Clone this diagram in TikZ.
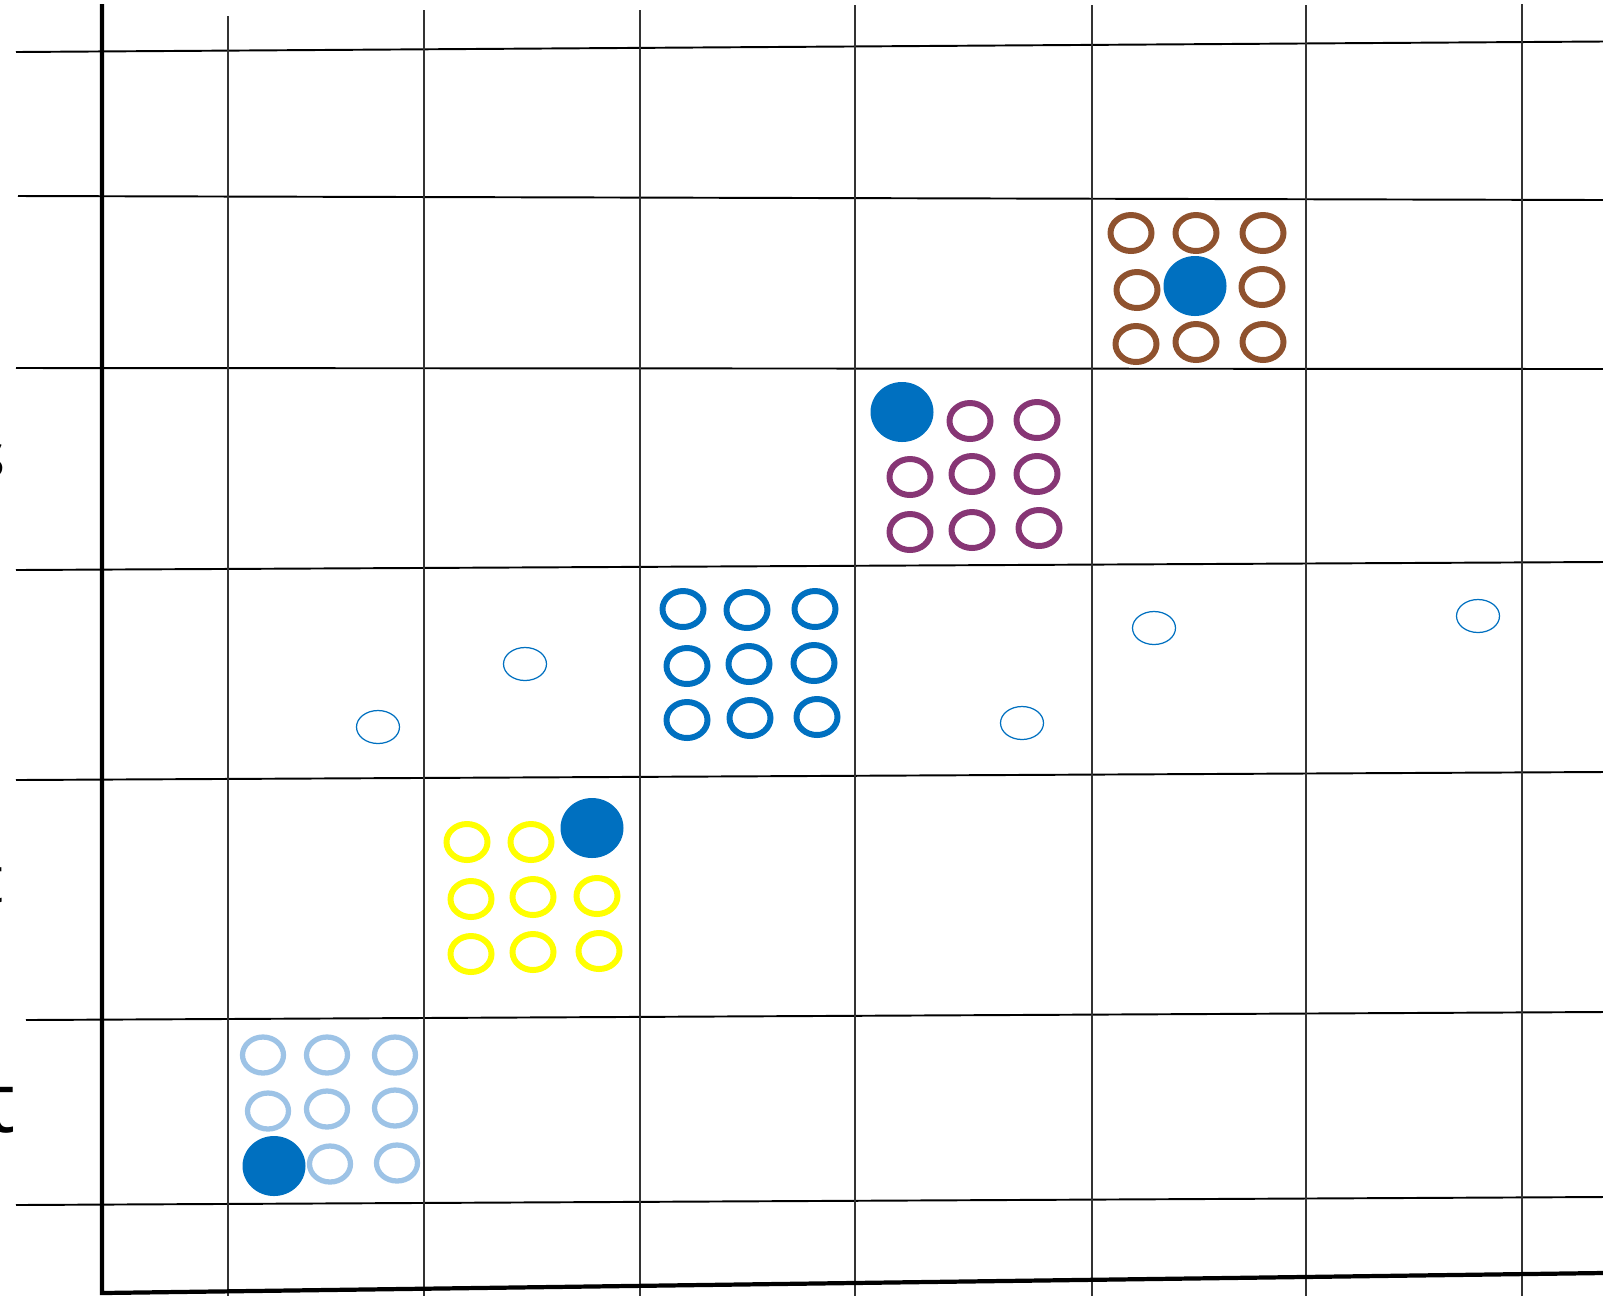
\documentclass[tikz,border=0pt]{standalone}
\usepackage{fontspec}
\setmainfont{Open Sans}
\definecolor{cbrown}{RGB}{143,82,46}
\definecolor{cpurple}{RGB}{135,54,117}
\definecolor{cblue}{RGB}{0,112,192}
\definecolor{cyellow}{RGB}{255,255,0}
\definecolor{clight}{RGB}{157,195,230}
\begin{document}
\begin{tikzpicture}[x=0.01cm,y=-0.01cm,
  grid/.style={line width=0.55pt,black},
  vgrid/.style={line width=0.6pt,black!80},
  axis/.style={line width=1.2pt,black},
  ring/.style={line width=1.7pt},
  dot/.style={fill=cblue},
  thin/.style={line width=0.35pt,draw=cblue}]
\useasboundingbox (0,0) rectangle (1603,1296);
\clip (0,0) rectangle (1603,1296);
% horizontal grid lines
\draw[grid] (16,52) -- (1603,41.5);
\draw[grid] (18,196) -- (1603,200);
\draw[grid] (16,368) -- (1603,369);
\draw[grid] (16,570) -- (1603,562);
\draw[grid] (16,780) -- (1603,772);
\draw[grid] (26,1020) -- (1603,1012);
\draw[grid] (16,1205) -- (1603,1197);
% vertical grid lines
\draw[vgrid] (228,16) -- (228,1296);
\draw[vgrid] (424,10) -- (424,1296);
\draw[vgrid] (640,10) -- (640,1296);
\draw[vgrid] (855,5) -- (855,1296);
\draw[vgrid] (1092,5) -- (1092,1296);
\draw[vgrid] (1306,5) -- (1306,1296);
\draw[vgrid] (1522,4) -- (1522,1296);
% axes
\draw[axis] (102,4) -- (102,1293) -- (1603,1273);
% clipped labels at left edge
\node[anchor=base east,font=\fontsize{18}{20}\selectfont,inner sep=0pt] (ls) at (6,477) {s};
\node[anchor=base east,font=\fontsize{18.5}{20}\selectfont,inner sep=0pt] (lt1) at (4,902) {t};
\node[anchor=base east,font=\fontsize{24}{26}\selectfont,inner sep=0pt] (lt2) at (16,1132) {t};
% brown group
\foreach \p in {(1131,233),(1196,233),(1263,233),(1137,290),(1262,287),(1136,344),(1196,342),(1263,342)}
  \draw[ring,cbrown] \p ellipse [x radius=20.5,y radius=18];
\fill[dot] (1195,286) ellipse [x radius=31.5,y radius=30];
% purple group
\fill[dot] (902,412) ellipse [x radius=31.5,y radius=30];
\foreach \p in {(970,421),(1037,420),(910,477),(972,474),(1037,474),(910,532),(972,530),(1039,528)}
  \draw[ring,cpurple] \p ellipse [x radius=20.5,y radius=18];
% blue group
\foreach \p in {(683,609),(747,610),(815,609),(687,666),(749,664),(814,663),(687,720),(750,718),(817,717)}
  \draw[ring,cblue] \p ellipse [x radius=20.5,y radius=18];
% yellow group
\foreach \p in {(467,842),(531,842),(471,899),(533,897),(597,896),(471,954),(533,952),(599,951)}
  \draw[ring,cyellow] \p ellipse [x radius=20.5,y radius=18];
\fill[dot] (592,828) ellipse [x radius=31.5,y radius=30];
% light blue group
\foreach \p in {(263,1055),(327,1055),(395,1055),(268,1111),(327,1109),(395,1108),(330,1164),(397,1163)}
  \draw[ring,clight,line width=1.5pt] \p ellipse [x radius=20.5,y radius=18];
\fill[dot] (274,1166) ellipse [x radius=31.5,y radius=30];
% small thin circles
\foreach \p in {(378,727),(525,664),(1022,723),(1154,628),(1478,616)}
  \draw[thin] \p ellipse [x radius=21.5,y radius=16.5];
\end{tikzpicture}
\end{document}
